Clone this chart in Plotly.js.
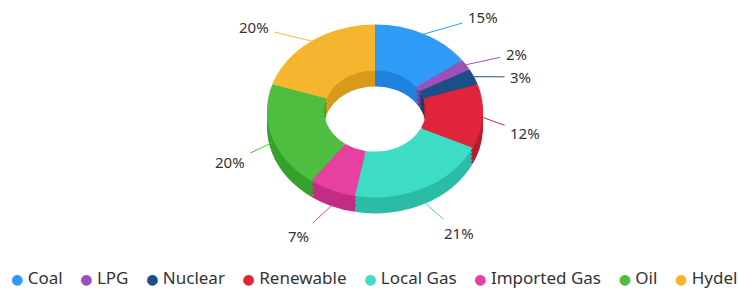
<!DOCTYPE html>
<html>
<head>
<meta charset="utf-8">
<script src="https://cdn.plot.ly/plotly-3.0.1.min.js"></script>
<style>
html,body{margin:0;padding:0;background:#fff;}
#chart{width:738px;height:289px;}
</style>
</head>
<body>
<div id="chart"></div>
<script>
const categories = ["Coal", "LPG", "Nuclear", "Renewable", "Local Gas", "Imported Gas", "Oil", "Hydel"];
const shares = [15, 2, 3, 12, 21, 7, 20, 20];
const topColors = ["#2E9CF6", "#9B51B8", "#1C4F86", "#E0243A", "#3DDCC5", "#E8409F", "#4DBE3F", "#F4B62F"];
const sideColors = ["#1E83DA", "#7C3C98", "#143D69", "#B81B2D", "#2BBCA6", "#C22C82", "#37A12D", "#D99A1B"];

const W = 738, H = 289;
const cx = 375, cy = 111;      // center of top face (px)
const R = 108;                 // outer radius before squash
const squash = 0.80;
const depth = 20;              // pre-squash depth offset
const holeFrac = 0.47;
const fontFam = "Noto Sans, Open Sans, sans-serif";

function dom(offsetPx) {
  const c = cy + offsetPx;
  return {
    x: [(cx - R) / W, (cx + R) / W],
    y: [(H - c - R) / H, (H - c + R) / H]
  };
}

const traces = [];
[depth, depth * 0.75, depth * 0.5, depth * 0.25].forEach(off => {
  traces.push({
    type: "pie", labels: categories, values: shares, sort: false,
    direction: "clockwise", rotation: 0, hole: holeFrac,
    marker: { colors: sideColors, line: { width: 0 } },
    textinfo: "none", hoverinfo: "skip", showlegend: false,
    domain: dom(off)
  });
});
traces.push({
  type: "pie", labels: categories, values: shares, sort: false,
  direction: "clockwise", rotation: 0, hole: holeFrac,
  marker: { colors: topColors, line: { width: 0 } },
  textinfo: "none", hoverinfo: "skip", showlegend: false,
  domain: dom(0)
});

// percentage labels with leader lines
const total = shares.reduce((a, b) => a + b, 0);
const items = [];
let cum = 0;
shares.forEach((v, i) => {
  const mid = (cum + v / 2) / total * 2 * Math.PI;
  cum += v;
  const s = Math.sin(mid), c = Math.cos(mid);
  const px = cx + R * s;
  const py = cy - squash * R * c + (c < 0 ? -c * depth * squash : 0);
  const lx = cx + 150 * s + Math.sign(s) * (c > 0 ? 50 : 20) * c * c;
  const ly = 125 - 121 * c;
  items.push({ i, v, s, px, py, lx, ly });
});
// keep labels on the same side apart
const right = items.filter(d => d.s >= 0).sort((a, b) => a.ly - b.ly);
for (let k = right.length - 2; k >= 0; k--) {
  if (right[k + 1].ly - right[k].ly < 23) right[k].ly = right[k + 1].ly - 23;
}
const annotations = items.map(d => ({
  xref: "paper", yref: "paper", x: d.px / W, y: 1 - d.py / H,
  ax: d.lx - d.px, ay: d.ly - d.py,
  text: Math.round(d.v / total * 100) + "%",
  showarrow: true, arrowhead: 0, arrowwidth: 1, arrowcolor: topColors[d.i],
  standoff: 0, startstandoff: 5, borderpad: 0,
  font: { family: fontFam, size: 15, color: "#333333" }
}));

// legend row (bullet + name for each category)
const gap = "\u00A0\u00A0\u00A0\u00A0";
const legendText = categories.map((c, i) =>
  `<span style="color:${topColors[i]};font-size:14px;font-family:DejaVu Sans">\u25CF</span>\u00A0${c}`
).join(gap);
annotations.push({
  xref: "paper", yref: "paper", x: 374 / W, y: 1 - 277 / H,
  xanchor: "center", yanchor: "middle", showarrow: false,
  text: legendText,
  font: { family: fontFam, size: 17, color: "#333333" }
});

const layout = {
  width: W, height: H,
  margin: { l: 0, r: 0, t: 0, b: 0 },
  paper_bgcolor: "#ffffff",
  showlegend: false,
  annotations: annotations,
  font: { family: fontFam }
};

Plotly.newPlot("chart", traces, layout, { displayModeBar: false, staticPlot: true }).then(() => {
  const g = document.querySelector(".pielayer");
  if (g) g.setAttribute("transform", `translate(0,${cy}) scale(1,${squash}) translate(0,${-cy})`);
});
</script>
</body>
</html>
